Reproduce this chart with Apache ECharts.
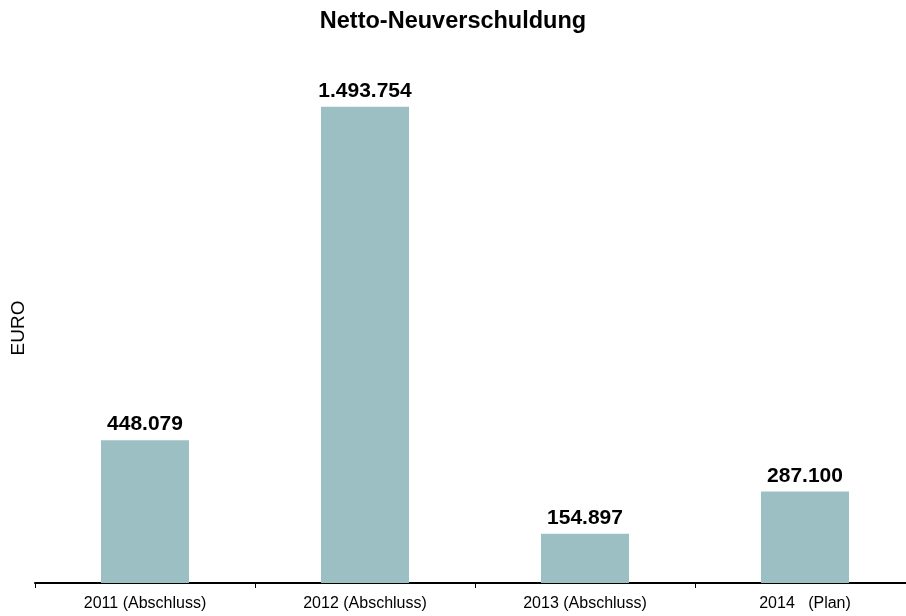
<!DOCTYPE html>
<html>
<head>
<meta charset="utf-8">
<script src="https://cdn.jsdelivr.net/npm/echarts@6/dist/echarts.min.js"></script>
<style>html,body{margin:0;padding:0;background:#fff}#c{width:906px;height:616px}</style>
</head>
<body>
<div id="c"></div>
<script>
// Netto-Neuverschuldung per year, in EURO
const categories = ['2011 (Abschluss)', '2012 (Abschluss)', '2013 (Abschluss)', '2014   (Plan)'];
const values = [448079, 1493754, 154897, 287100];

const fmt = v => String(v).replace(/\B(?=(\d{3})+(?!\d))/g, '.');

const chart = echarts.init(document.getElementById('c'));
chart.setOption({
  animation: false,
  textStyle: { fontFamily: 'Liberation Sans, Arial, sans-serif' },
  title: {
    text: 'Netto-Neuverschuldung',
    left: 'center',
    top: 5,
    textStyle: { fontSize: 23.5, fontWeight: 'bold', color: '#000', fontFamily: 'Liberation Sans, Arial, sans-serif' }
  },
  grid: { left: 35, width: 880, top: 73, height: 510, containLabel: false, outerBoundsMode: 'none' },
  xAxis: {
    type: 'category',
    data: categories,
    axisLine: { lineStyle: { color: '#000', width: 2 } },
    axisTick: { show: true, inside: false, length: 5, lineStyle: { color: '#000', width: 1 } },
    axisLabel: { color: '#000', fontSize: 16, margin: 13 }
  },
  yAxis: {
    type: 'value',
    min: 0,
    max: 1600000,
    name: 'EURO',
    nameLocation: 'middle',
    nameRotate: 90,
    nameGap: 7,
    nameTextStyle: { color: '#000', fontSize: 19 },
    axisLine: { show: false },
    axisTick: { show: false },
    axisLabel: { show: false },
    splitLine: { show: false }
  },
  series: [{
    type: 'bar',
    data: values,
    barWidth: 88,
    itemStyle: { color: '#9bbfc2' },
    label: {
      show: true,
      position: 'top',
      distance: 5,
      formatter: p => fmt(p.value),
      color: '#000',
      fontSize: 21,
      fontWeight: 'bold'
    }
  }]
});
</script>
</body>
</html>
